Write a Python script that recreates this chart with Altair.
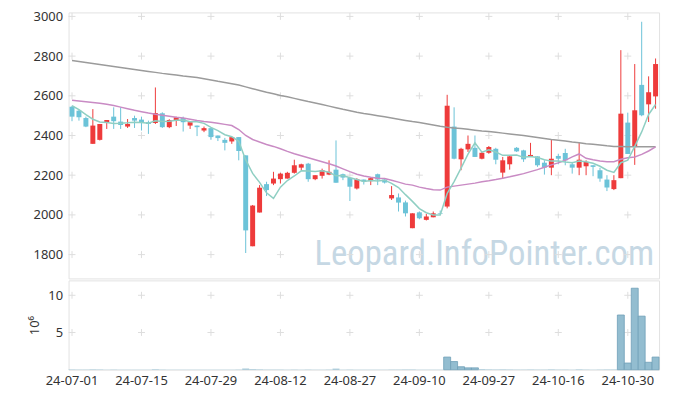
import altair as alt
import pandas as pd

dates = [
    "24-07-01", "24-07-02", "24-07-03", "24-07-04", "24-07-05", "24-07-08", "24-07-09", "24-07-10",
    "24-07-11", "24-07-12", "24-07-15", "24-07-16", "24-07-17", "24-07-18", "24-07-19", "24-07-22",
    "24-07-23", "24-07-24", "24-07-25", "24-07-26", "24-07-29", "24-07-30", "24-07-31",
    "24-08-01", "24-08-02", "24-08-05", "24-08-06", "24-08-07", "24-08-08", "24-08-09", "24-08-12",
    "24-08-13", "24-08-14", "24-08-16", "24-08-19", "24-08-20", "24-08-21", "24-08-22", "24-08-23",
    "24-08-26", "24-08-27", "24-08-28", "24-08-29", "24-08-30",
    "24-09-02", "24-09-03", "24-09-04", "24-09-05", "24-09-06", "24-09-09", "24-09-10", "24-09-11",
    "24-09-12", "24-09-13", "24-09-19", "24-09-20", "24-09-23", "24-09-24", "24-09-25", "24-09-26",
    "24-09-27", "24-09-30",
    "24-10-02", "24-10-04", "24-10-07", "24-10-08", "24-10-10", "24-10-11", "24-10-14", "24-10-15",
    "24-10-16", "24-10-17", "24-10-18", "24-10-21", "24-10-22", "24-10-23", "24-10-24", "24-10-25",
    "24-10-28", "24-10-29", "24-10-30", "24-10-31",
    "24-11-01", "24-11-04", "24-11-05",
]

opens = [2545, 2525, 2488, 2358, 2378, 2467, 2495, 2470, 2445, 2488, 2480, 2467, 2463, 2512, 2442,
         2478, 2488, 2450, 2450, 2425, 2437, 2400, 2378, 2370, 2392, 2300, 1842, 2012, 2155, 2158,
         2180, 2183, 2212, 2238, 2258, 2180, 2197, 2203, 2228, 2205, 2187, 2133, 2178, 2170, 2205,
         2178, 2083, 2088, 2063, 1933, 2013, 1975, 1988, 2008, 2042, 2445, 2280, 2330, 2338, 2283,
         2313, 2333, 2213, 2255, 2338, 2325, 2295, 2295, 2263, 2238, 2297, 2312, 2255, 2238, 2245,
         2250, 2225, 2178, 2130, 2185, 2465, 2343, 2655, 2557, 2597]
highs = [2550, 2530, 2495, 2533, 2458, 2478, 2542, 2542, 2483, 2500, 2495, 2475, 2642, 2517, 2482,
         2495, 2495, 2467, 2450, 2445, 2438, 2400, 2388, 2392, 2392, 2300, 2050, 2150, 2167, 2217,
         2212, 2217, 2278, 2258, 2262, 2200, 2233, 2275, 2375, 2208, 2190, 2185, 2178, 2188, 2208,
         2183, 2145, 2108, 2072, 2008, 2017, 2005, 2017, 2022, 2605, 2542, 2338, 2400, 2400, 2318,
         2347, 2338, 2292, 2300, 2342, 2328, 2363, 2295, 2275, 2378, 2308, 2333, 2267, 2362, 2275,
         2250, 2237, 2200, 2200, 2830, 2515, 2760, 2973, 2698, 2788]
lows = [2472, 2475, 2442, 2358, 2375, 2433, 2433, 2433, 2438, 2438, 2425, 2408, 2458, 2438, 2437,
        2448, 2420, 2433, 2397, 2417, 2378, 2372, 2325, 2358, 2275, 1808, 1842, 2012, 2095, 2150,
        2158, 2183, 2208, 2225, 2167, 2175, 2183, 2200, 2162, 2175, 2070, 2128, 2153, 2150, 2150,
        2158, 2075, 2017, 1992, 1933, 1978, 1972, 1988, 2000, 2033, 2280, 2225, 2317, 2292, 2280,
        2308, 2255, 2183, 2228, 2317, 2267, 2295, 2242, 2203, 2200, 2255, 2250, 2208, 2200, 2200,
        2195, 2167, 2120, 2125, 2185, 2307, 2252, 2497, 2468, 2535]
closes = [2495, 2492, 2445, 2450, 2458, 2478, 2472, 2453, 2458, 2475, 2467, 2458, 2513, 2442, 2478,
          2492, 2467, 2467, 2442, 2437, 2392, 2387, 2363, 2392, 2322, 1922, 2047, 2137, 2125, 2183,
          2208, 2212, 2250, 2255, 2180, 2200, 2225, 2217, 2162, 2188, 2142, 2180, 2168, 2185, 2178,
          2163, 2100, 2062, 2008, 2008, 1983, 1992, 2008, 2005, 2550, 2283, 2333, 2358, 2292, 2313,
          2342, 2278, 2275, 2295, 2320, 2280, 2302, 2250, 2238, 2283, 2283, 2275, 2238, 2278, 2267,
          2242, 2183, 2138, 2175, 2510, 2307, 2527, 2502, 2618, 2760]

# volume in millions of shares
volumes = [0.05, 0.04, 0.04, 0.06, 0.05, 0.03, 0.04, 0.03, 0.03, 0.03, 0.03, 0.03, 0.07, 0.04, 0.03,
           0.03, 0.03, 0.03, 0.03, 0.03, 0.03, 0.03, 0.03, 0.03, 0.04, 0.15, 0.08, 0.06, 0.04, 0.04,
           0.04, 0.03, 0.04, 0.03, 0.04, 0.03, 0.03, 0.04, 0.14, 0.03, 0.04, 0.03, 0.03, 0.03, 0.03,
           0.03, 0.04, 0.04, 0.05, 0.05, 0.03, 0.03, 0.03, 0.03, 1.7, 1.1, 0.4, 0.25, 0.25, 0.08,
           0.06, 0.05, 0.06, 0.05, 0.04, 0.04, 0.05, 0.04, 0.04, 0.06, 0.04, 0.04, 0.03, 0.06, 0.04,
           0.03, 0.04, 0.05, 0.05, 7.35, 0.9, 10.95, 7.2, 1.0, 1.7]

ma5 = [2550, 2530, 2505, 2482, 2468, 2465, 2461, 2462, 2464, 2467, 2465, 2462, 2474, 2471, 2472,
       2477, 2478, 2469, 2469, 2461, 2441, 2425, 2404, 2394, 2371, 2277, 2209, 2164, 2111, 2083,
       2140, 2173, 2196, 2222, 2221, 2219, 2222, 2215, 2197, 2198, 2187, 2178, 2168, 2173, 2171,
       2175, 2159, 2138, 2102, 2068, 2032, 2011, 2000, 1999, 2108, 2168, 2236, 2306, 2363, 2316,
       2328, 2317, 2300, 2301, 2302, 2290, 2294, 2289, 2278, 2271, 2271, 2266, 2263, 2271, 2268,
       2260, 2245, 2225, 2214, 2263, 2276, 2345, 2418, 2506, 2556]
ma20 = [2578, 2574, 2570, 2566, 2562, 2557, 2551, 2543, 2535, 2527, 2520, 2513, 2507, 2502, 2497,
        2492, 2488, 2482, 2476, 2471, 2467, 2462, 2456, 2450, 2430, 2400, 2380, 2367, 2355, 2345,
        2333, 2320, 2308, 2298, 2288, 2278, 2268, 2258, 2246, 2232, 2218, 2205, 2196, 2190, 2185,
        2183, 2175, 2165, 2155, 2150, 2140, 2133, 2127, 2125, 2140, 2145, 2150, 2155, 2160, 2167,
        2172, 2178, 2185, 2192, 2200, 2208, 2218, 2228, 2240, 2252, 2262, 2275, 2292, 2307, 2285,
        2278, 2272, 2268, 2268, 2280, 2288, 2292, 2305, 2322, 2343]
ma120 = [2778, 2773, 2768, 2763, 2758, 2753, 2748, 2743, 2738, 2733, 2728, 2723, 2718, 2713, 2709,
         2705, 2700, 2696, 2692, 2686, 2680, 2673, 2667, 2661, 2654, 2645, 2636, 2627, 2618, 2610,
         2602, 2595, 2587, 2579, 2571, 2564, 2556, 2548, 2540, 2532, 2525, 2517, 2511, 2506, 2500,
         2494, 2488, 2482, 2476, 2470, 2465, 2459, 2453, 2447, 2442, 2438, 2435, 2431, 2427, 2423,
         2420, 2416, 2412, 2408, 2404, 2400, 2395, 2390, 2385, 2380, 2376, 2372, 2367, 2363, 2359,
         2356, 2352, 2348, 2345, 2344, 2343, 2343, 2343, 2343, 2343]

x_labels = ["24-07-01", "24-07-15", "24-07-29", "24-08-12", "24-08-27",
            "24-09-10", "24-09-27", "24-10-16", "24-10-30"]
price_ticks = [1800, 2000, 2200, 2400, 2600, 2800, 3000]
volume_ticks = [5, 10]
watermark = "Leopard.InfoPointer.com"

RED = "#ee3b3b"
CYAN = "#6cc3d8"
FONT = "Noto Sans"

df = pd.DataFrame({
    "date": dates, "open": opens, "high": highs, "low": lows, "close": closes,
    "volume": volumes, "ma5": ma5, "ma20": ma20, "ma120": ma120,
})
grid_price = pd.DataFrame([(d, v) for d in x_labels for v in price_ticks], columns=["date", "v"])
grid_vol = pd.DataFrame([(d, v) for d in x_labels for v in volume_ticks], columns=["date", "v"])

xscale = alt.Scale(domain=dates, paddingInner=0, paddingOuter=0)
yscale = alt.Scale(domain=[1680, 3020], nice=False, zero=False)
candle_color = alt.condition("datum.close >= datum.open", alt.value(RED), alt.value(CYAN))
CROSS = "M-1,0L1,0M0,-1L0,1"

xp = alt.X("date:O", scale=xscale, axis=None)

price_axis = alt.Axis(values=price_ticks, grid=False, ticks=False, domain=False,
                      labelPadding=6, title=None, format="d")

wm = alt.Chart(pd.DataFrame({"t": [watermark]})).mark_text(
    font="Liberation Sans Narrow, Roboto Condensed, Roboto", fontSize=35, color="#c6d8e4",
    align="right", baseline="alphabetic"
).encode(text="t:N", x=alt.value(590), y=alt.value(254))

gp = alt.Chart(grid_price).mark_point(shape=CROSS, size=49, filled=False, stroke="#dedede",
                                      strokeWidth=1, opacity=1).encode(
    x=alt.X("date:O", scale=xscale, axis=None),
    y=alt.Y("v:Q", scale=yscale, axis=price_axis),
)

base = alt.Chart(df)
wick = base.mark_rule(strokeWidth=1).encode(
    x=xp, y=alt.Y("low:Q", scale=yscale, axis=price_axis), y2="high:Q", color=candle_color)
body = base.mark_bar(size=5).encode(
    x=xp, y=alt.Y("open:Q", scale=yscale), y2="close:Q", color=candle_color)
l120 = base.mark_line(color="#9b9b9b", strokeWidth=1.5).encode(x=xp, y=alt.Y("ma120:Q", scale=yscale))
l20 = base.mark_line(color="#c98bc4", strokeWidth=1.5).encode(x=xp, y=alt.Y("ma20:Q", scale=yscale))
l5 = base.mark_line(color="#8fcfc3", strokeWidth=1.5).encode(x=xp, y=alt.Y("ma5:Q", scale=yscale))

price = alt.layer(wm, gp, wick, body, l120, l20, l5).properties(width=595, height=268)

vscale = alt.Scale(domain=[0, 12], nice=False)
xv = alt.X("date:O", scale=xscale,
           axis=alt.Axis(values=x_labels, labelAngle=0, ticks=False, domain=False, grid=False,
                         title=None, labelPadding=5, labelOverlap=False))
vol_axis = alt.Axis(values=volume_ticks, grid=False, ticks=False, domain=False, labelPadding=6,
                    title="10⁶", titlePadding=6, titleFontWeight="normal", titleFontSize=13,
                    titleColor="#333")
gv = alt.Chart(grid_vol).mark_point(shape=CROSS, size=49, filled=False, stroke="#dedede",
                                    strokeWidth=1, opacity=1).encode(
    x=xv, y=alt.Y("v:Q", scale=vscale, axis=vol_axis))
vbars = base.mark_bar(fill="#93bdd0", stroke="#6f9fb7", strokeWidth=0.8).encode(
    x=xv, y=alt.Y("volume:Q", scale=vscale, axis=vol_axis),
    strokeOpacity=alt.condition("datum.volume > 0.2", alt.value(1), alt.value(0)))
volume = alt.layer(gv, vbars).properties(width=595, height=90)

chart = alt.vconcat(price, volume, spacing=0).properties(
    padding={"left": 20, "top": 0, "right": 5, "bottom": 5}
).configure_view(stroke="#e2e2e2").configure_axis(
    labelFont=FONT, labelFontSize=13, labelColor="#333", titleFont=FONT
)

chart.save("out.html", embed_options={"renderer": "svg", "actions": False})
